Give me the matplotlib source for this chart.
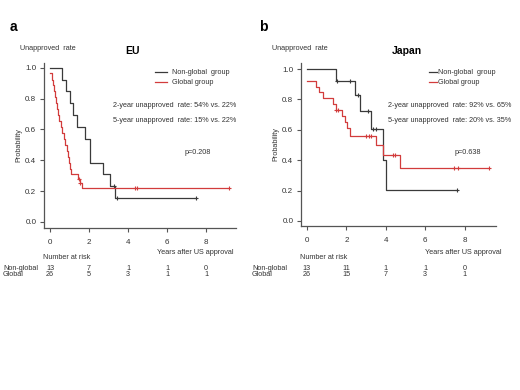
import numpy as np
import matplotlib
matplotlib.use('Agg')
import matplotlib.pyplot as plt
from matplotlib.transforms import blended_transform_factory

plt.rcParams['font.family'] = ['Liberation Sans', 'DejaVu Sans']

## DATA
# EU panel
eu_ng_t = [0, 0.6, 0.8, 1.0, 1.2, 1.4, 1.8, 2.05, 2.7, 3.1, 3.35, 7.5]
eu_ng_s = [1.0, 0.923, 0.846, 0.769, 0.692, 0.615, 0.538, 0.385, 0.308, 0.231, 0.154, 0.154]
eu_ng_ct = [3.3, 3.45, 7.5]
eu_ng_cs = [0.231, 0.154, 0.154]

eu_g_t = [0.02, 0.1, 0.15, 0.2, 0.25, 0.3, 0.35, 0.42, 0.48, 0.55, 0.62, 0.7, 0.77, 0.85, 0.9, 0.95, 1.0, 1.05,
          1.45, 1.55, 1.65, 9.2]
eu_g_s = [0.962, 0.923, 0.885, 0.846, 0.808, 0.769, 0.731, 0.692, 0.654, 0.615, 0.577, 0.538, 0.5, 0.462,
          0.423, 0.385, 0.346, 0.308, 0.28, 0.25, 0.22, 0.22]
eu_g_ct = [1.5, 1.55, 4.35, 4.45, 9.2]
eu_g_cs = [0.28, 0.25, 0.22, 0.22, 0.22]

# Japan panel
jp_ng_t = [0, 1.45, 2.44, 2.69, 3.25, 3.85, 4.0, 7.6]
jp_ng_s = [1.0, 0.923, 0.831, 0.727, 0.606, 0.404, 0.202, 0.202]
jp_ng_ct = [1.55, 2.18, 2.57, 3.11, 3.37, 3.5, 7.6]
jp_ng_cs = [0.923, 0.923, 0.831, 0.727, 0.606, 0.606, 0.202]

jp_g_t = [0, 0.46, 0.6, 0.8, 1.3, 1.45, 1.8, 1.95, 2.05, 2.18, 3.48, 3.85, 4.72, 9.25]
jp_g_s = [0.923, 0.885, 0.846, 0.808, 0.77, 0.73, 0.69, 0.65, 0.61, 0.56, 0.5, 0.434, 0.35, 0.35]
jp_g_ct = [1.5, 1.58, 3.0, 3.15, 3.25, 4.35, 4.45, 7.45, 7.65, 9.25]
jp_g_cs = [0.73, 0.73, 0.56, 0.56, 0.56, 0.434, 0.434, 0.35, 0.35, 0.35]

risk_times = [0, 2, 4, 6, 8]
eu_risk_ng = [13, 7, 1, 1, 0]
eu_risk_g = [26, 5, 3, 1, 1]
jp_risk_ng = [13, 11, 1, 1, 0]
jp_risk_g = [26, 15, 7, 3, 1]

panels = [
    dict(letter='a', title='EU', rect=(44, 63, 236, 228), xlim=(-0.31, 9.54), ylim=(-0.039, 1.03),
         ng=(eu_ng_t, eu_ng_s, eu_ng_ct, eu_ng_cs), g=(eu_g_t, eu_g_s, eu_g_ct, eu_g_cs),
         rates=('2-year unapproved  rate: 54% vs. 22%', '5-year unapproved  rate: 15% vs. 22%'),
         p='p=0.208', risk=(eu_risk_ng, eu_risk_g),
         letter_xy=(10, 27), urate_x=20, title_x=132, leg_x=(155, 167, 172), rate_x=113, p_x=185,
         years_x=157, nar_x=43, rowlab_x=3, ylab_x=22),
    dict(letter='b', title='Japan', rect=(301, 63, 496, 226), xlim=(-0.30, 9.59), ylim=(-0.033, 1.04),
         ng=(jp_ng_t, jp_ng_s, jp_ng_ct, jp_ng_cs), g=(jp_g_t, jp_g_s, jp_g_ct, jp_g_cs),
         rates=('2-year unapproved  rate: 92% vs. 65%', '5-year unapproved  rate: 20% vs. 35%'),
         p='p=0.638', risk=(jp_risk_ng, jp_risk_g),
         letter_xy=(259, 27), urate_x=272, title_x=407, leg_x=(429, 437, 438), rate_x=388, p_x=455,
         years_x=425, nar_x=300, rowlab_x=252, ylab_x=279),
]

W, H = 520, 390
black = '#3a3a3a'
red = '#d23c3c'
txt = '#333333'
fs = 5.2

fig = plt.figure(figsize=(W / 100, H / 100), dpi=100)


def fy(y):
    return 1 - y / H


def fx(x):
    return x / W


for pn in panels:
    l, t, r, b = pn['rect']
    ax = fig.add_axes([fx(l), fy(b), fx(r - l), (b - t) / H])
    ax.set_xlim(*pn['xlim'])
    ax.set_ylim(*pn['ylim'])
    for s in ['top', 'right']:
        ax.spines[s].set_visible(False)
    for s in ['left', 'bottom']:
        ax.spines[s].set_color('#555555')
        ax.spines[s].set_linewidth(0.9)
    ax.set_xticks(risk_times)
    ax.set_yticks([0, 0.2, 0.4, 0.6, 0.8, 1.0])
    ax.set_yticklabels(['0.0', '0.2', '0.4', '0.6', '0.8', '1.0'])
    ax.tick_params(direction='out', length=3, width=0.8, color='#555555', labelsize=5.8, labelcolor=txt, pad=5)
    ax.tick_params(axis='y', pad=2.5)
    ax.set_ylabel('Probability', fontsize=fs, color=txt)
    ax.yaxis.set_label_coords((pn['ylab_x'] - l) / (r - l), 0.5)

    for key, col in [('ng', black), ('g', red)]:
        tt, ss, ct, cs = pn[key]
        ax.step(tt, ss, where='post', color=col, lw=0.9)
        ax.plot(ct, cs, '+', color=col, ms=3.5, mew=0.8)

    # texts
    fig.text(fx(pn['letter_xy'][0]), fy(pn['letter_xy'][1]), pn['letter'], fontsize=10, fontweight='bold',
             va='center', ha='left')
    fig.text(fx(pn['urate_x']), fy(49), 'Unapproved  rate', fontsize=fs, color=txt, va='center')
    fig.text(fx(pn['title_x']), fy(51), pn['title'], fontsize=7.5, fontweight='bold', va='center', ha='center')
    x0, x1, xt = pn['leg_x']
    fig.add_artist(plt.Line2D([fx(x0), fx(x1)], [fy(72), fy(72)], color=black, lw=0.9))
    fig.add_artist(plt.Line2D([fx(x0), fx(x1)], [fy(82), fy(82)], color=red, lw=0.9))
    fig.text(fx(xt), fy(72), 'Non-global  group', fontsize=fs, color=txt, va='center')
    fig.text(fx(xt), fy(82), 'Global group', fontsize=fs, color=txt, va='center')
    fig.text(fx(pn['rate_x']), fy(106), pn['rates'][0], fontsize=fs, color=txt, va='center')
    fig.text(fx(pn['rate_x']), fy(121), pn['rates'][1], fontsize=fs, color=txt, va='center')
    fig.text(fx(pn['p_x']), fy(153), pn['p'], fontsize=fs, color=txt, va='center')
    fig.text(fx(pn['years_x']), fy(252), 'Years after US approval', fontsize=fs, color=txt, va='center')
    fig.text(fx(pn['nar_x']), fy(257.5), 'Number at risk', fontsize=fs, color=txt, va='center')
    fig.text(fx(pn['rowlab_x']), fy(268), 'Non-global', fontsize=fs, color=txt, va='center')
    fig.text(fx(pn['rowlab_x']), fy(275), 'Global', fontsize=fs, color=txt, va='center')

    tr = blended_transform_factory(ax.transData, fig.transFigure)
    rng, rg = pn['risk']
    for xv, a, c in zip(risk_times, rng, rg):
        ax.text(xv, fy(268), str(a), transform=tr, fontsize=fs, color=txt, ha='center', va='center')
        ax.text(xv, fy(275), str(c), transform=tr, fontsize=fs, color=txt, ha='center', va='center')

fig.savefig('out.png', dpi=100)
